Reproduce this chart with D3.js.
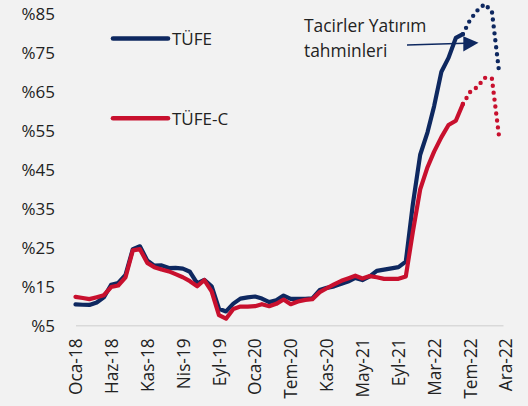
<!DOCTYPE html>
<html><head><meta charset="utf-8">
<script src="https://cdn.jsdelivr.net/npm/d3@7"></script>
<style>
html,body{margin:0;padding:0;background:#f2f2f2;}
svg{display:block;}
</style></head>
<body>
<svg id="chart" width="528" height="406"></svg>
<script>
// ---- data ----
const startMonth = "2018-01";
// TÜFE (annual %, actual, Jan 2018 - Jul 2022)
const tufe = [
  10.35, 10.26, 10.23, 10.85, 12.15, 15.39, 15.85, 17.90, 24.52, 25.24, 21.62, 20.30,
  20.35, 19.67, 19.71, 19.50, 18.71, 15.72, 16.65, 15.01, 9.26, 8.55, 10.56, 11.84,
  12.15, 12.37, 11.86, 10.94, 11.39, 12.62, 11.76, 11.77, 11.75, 11.89, 14.03, 14.60,
  14.97, 15.61, 16.19, 17.14, 16.59, 17.53, 18.95, 19.25, 19.58, 19.89, 21.31, 36.08,
  48.69, 54.44, 61.14, 69.97, 73.50, 78.62, 79.60
];
// TÜFE-C (annual %, actual, Jan 2018 - Jul 2022)
const tufeC = [
  12.3, 12.0, 11.7, 12.2, 12.7, 14.8, 15.2, 17.3, 24.2, 24.5, 21.0, 19.9,
  19.3, 18.8, 18.1, 17.3, 16.3, 15.0, 16.6, 13.7, 7.6, 6.7, 9.2, 9.8,
  9.8, 9.9, 10.4, 9.9, 10.5, 11.6, 10.4, 11.1, 11.5, 11.7, 13.5, 14.5,
  15.5, 16.4, 17.0, 17.7, 17.0, 17.6, 17.3, 16.9, 16.9, 16.9, 17.5, 29.0,
  39.8, 45.5, 49.5, 53.2, 56.3, 57.4, 61.7
];
// Forecasts (Jul 2022 - Dec 2022)
const forecastStart = "2022-07";
const tufeForecast  = [79.60, 83.3, 85.7, 87.3, 85.4, 70.1];
const tufeCForecast = [61.7, 64.8, 66.1, 68.4, 68.2, 53.5];

const yTicks = [5, 15, 25, 35, 45, 55, 65, 75, 85];
const xTickLabels = ["Oca-18","Haz-18","Kas-18","Nis-19","Eyl-19","Oca-20","Tem-20",
                     "Kas-20","May-21","Eyl-21","Mar-22","Tem-22","Ara-22"];
const xTickStepDays = 152;
const seriesNames = ["TÜFE", "TÜFE-C"];
const annotationLines = ["Tacirler Yatırım", "tahminleri"];

// ---- styling ----
const BLUE = "#0e2860", RED = "#c8102e", TEXT = "#222222";
const FONT = "'Open Sans', sans-serif";

const parseM = d3.timeParse("%Y-%m");
const monthsFrom = (start, n) => d3.range(n).map(i => d3.timeMonth.offset(parseM(start), i));

const actualDates = monthsFrom(startMonth, tufe.length);
const fcDates = monthsFrom(forecastStart, tufeForecast.length);

const tufeData = actualDates.map((d, i) => ({date: d, v: tufe[i]}));
const tufeCData = actualDates.map((d, i) => ({date: d, v: tufeC[i]}));
const tufeFc = fcDates.map((d, i) => ({date: d, v: tufeForecast[i]}));
const tufeCFc = fcDates.map((d, i) => ({date: d, v: tufeCForecast[i]}));

const svg = d3.select("#chart");

const x = d3.scaleTime()
  .domain([parseM(startMonth), new Date(2022, 11, 18)])
  .range([75.5, 503]);
const y = d3.scaleLinear().domain([5, 85]).range([325.3, 13]);

const xTickDates = xTickLabels.map((l, k) => d3.timeDay.offset(parseM(startMonth), k * xTickStepDays));

// x axis
const xAxis = svg.append("g")
  .attr("transform", `translate(0,${y(5)})`)
  .call(d3.axisBottom(x).tickValues(xTickDates).tickSize(0)
        .tickFormat((d, i) => xTickLabels[i]));
xAxis.select(".domain").attr("stroke", "#d9d9d9").attr("stroke-width", 1.6);
xAxis.selectAll("text")
  .attr("x", 0).attr("y", 0).attr("dy", "0.35em")
  .attr("text-anchor", "end")
  .attr("transform", "translate(0,13) rotate(-90)")
  .attr("fill", TEXT)
  .style("font-family", FONT).style("font-size", "17.3px");

// y axis
const yAxis = svg.append("g")
  .attr("transform", "translate(55,0)")
  .call(d3.axisLeft(y).tickValues(yTicks).tickSize(0).tickPadding(0)
        .tickFormat(d => "%" + d));
yAxis.select(".domain").remove();
yAxis.selectAll("text")
  .attr("dy", "0.36em").attr("fill", TEXT)
  .style("font-family", FONT).style("font-size", "17px");

const line = d3.line().x(d => x(d.date)).y(d => y(d.v));

// actual lines
svg.append("path").datum(tufeData).attr("d", line)
  .attr("fill", "none").attr("stroke", BLUE).attr("stroke-width", 4.2)
  .attr("stroke-linejoin", "round").attr("stroke-linecap", "round");
svg.append("path").datum(tufeCData).attr("d", line)
  .attr("fill", "none").attr("stroke", RED).attr("stroke-width", 4.2)
  .attr("stroke-linejoin", "round").attr("stroke-linecap", "round");

// forecast dotted lines
svg.append("path").datum(tufeFc).attr("d", line)
  .attr("fill", "none").attr("stroke", BLUE).attr("stroke-width", 4.4)
  .attr("stroke-dasharray", "0 7").attr("stroke-linecap", "round");
svg.append("path").datum(tufeCFc).attr("d", line)
  .attr("fill", "none").attr("stroke", RED).attr("stroke-width", 4.4)
  .attr("stroke-dasharray", "0 7").attr("stroke-linecap", "round");

// legend
const legend = svg.append("g");
[[BLUE, 38.5, 45], [RED, 118.3, 125]].forEach(([c, ly, ty], i) => {
  legend.append("line").attr("x1", 113).attr("x2", 168).attr("y1", ly).attr("y2", ly)
    .attr("stroke", c).attr("stroke-width", 4.6).attr("stroke-linecap", "round");
  legend.append("text").attr("x", 172).attr("y", ty).text(seriesNames[i])
    .attr("fill", TEXT).style("font-family", FONT).style("font-size", "17px");
});

// annotation
const ann = svg.append("g");
annotationLines.forEach((t, i) => {
  ann.append("text").attr("x", 304).attr("y", 31.7 + i * 25).text(t)
    .attr("fill", TEXT).style("font-family", FONT).style("font-size", "17.4px");
});
ann.append("line").attr("x1", 407).attr("y1", 45).attr("x2", 465).attr("y2", 43.3)
  .attr("stroke", BLUE).attr("stroke-width", 1.6);
ann.append("path").attr("d", "M478.5,42.8 L463.3,36.2 L463.3,51.5 Z").attr("fill", BLUE);
</script>
</body></html>
